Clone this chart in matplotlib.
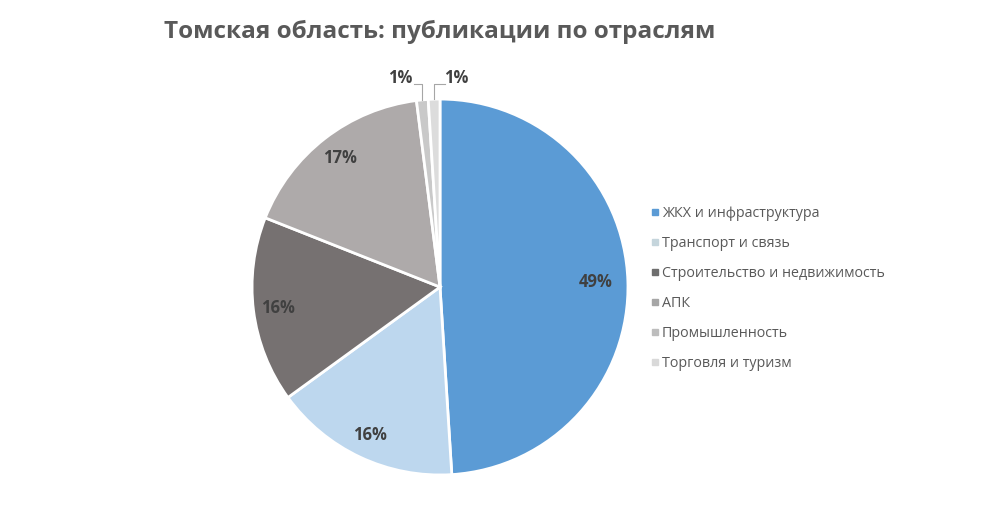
import matplotlib.pyplot as plt
from matplotlib.lines import Line2D
import numpy as np

plt.rcParams['font.family'] = ['Open Sans', 'DejaVu Sans']

# Data
categories = ['ЖКХ и инфраструктура', 'Транспорт и связь', 'Строительство и недвижимость',
              'АПК', 'Промышленность', 'Торговля и туризм']
shares = [49, 16, 16, 17, 1, 1]
colors = ['#5B9BD5', '#BDD7EE', '#767171', '#AEAAAA', '#C9C9C9', '#DCDCDC']
legend_colors = ['#5B9BD5', '#C5D5DC', '#6E6E6E', '#A6A6A6', '#BDBDBD', '#D9D9D9']

fig = plt.figure(figsize=(10, 5.08), dpi=100)
ax = fig.add_axes([0.252, 0.065, 0.376, 0.740])

wedges, _ = ax.pie(shares, colors=colors, startangle=90, counterclock=False,
                   wedgeprops=dict(edgecolor='white', linewidth=2))
ax.set_xlim(-1, 1)
ax.set_ylim(-1, 1)
ax.set_aspect('equal')

# percent labels inside the big slices
for i, (w, s) in enumerate(zip(wedges, shares)):
    mid = np.deg2rad((w.theta1 + w.theta2) / 2)
    if s >= 5:
        d = 0.83 if i == 0 else 0.87
        ax.text(d * np.cos(mid), d * np.sin(mid), f'{s}%', ha='center', va='center',
                fontsize=12, fontweight='bold', color='#404040')

# small slices with leader lines
small_pos = {4: (-0.213, 1.112), 5: (0.085, 1.112)}
for i, (lx, ly) in small_pos.items():
    w = wedges[i]
    mid = np.deg2rad((w.theta1 + w.theta2) / 2)
    px, py = np.cos(mid), np.sin(mid)
    ax.text(lx, ly, f'{shares[i]}%', ha='center', va='center',
            fontsize=12, fontweight='bold', color='#404040', clip_on=False)
    ax.plot([lx + (0.075 if i == 4 else -0.06), px, px],
            [ly - 0.03, ly - 0.03, py], color='#A6A6A6', lw=0.8, clip_on=False)

handles = [Line2D([0], [0], marker='s', linestyle='none', markersize=5,
                  markerfacecolor=c, markeredgecolor=c) for c in legend_colors]
fig.legend(handles, categories, loc='center left', bbox_to_anchor=(0.636, 0.432),
           frameon=False, fontsize=10.3, labelcolor='#595959', handletextpad=0.1,
           labelspacing=1.05, handlelength=0.8)

fig.text(0.44, 0.937, 'Томская область: публикации по отраслям', ha='center', va='center',
         fontsize=17.5, fontweight='bold', color='#595959')

fig.savefig('out.png', dpi=100, facecolor='white')
